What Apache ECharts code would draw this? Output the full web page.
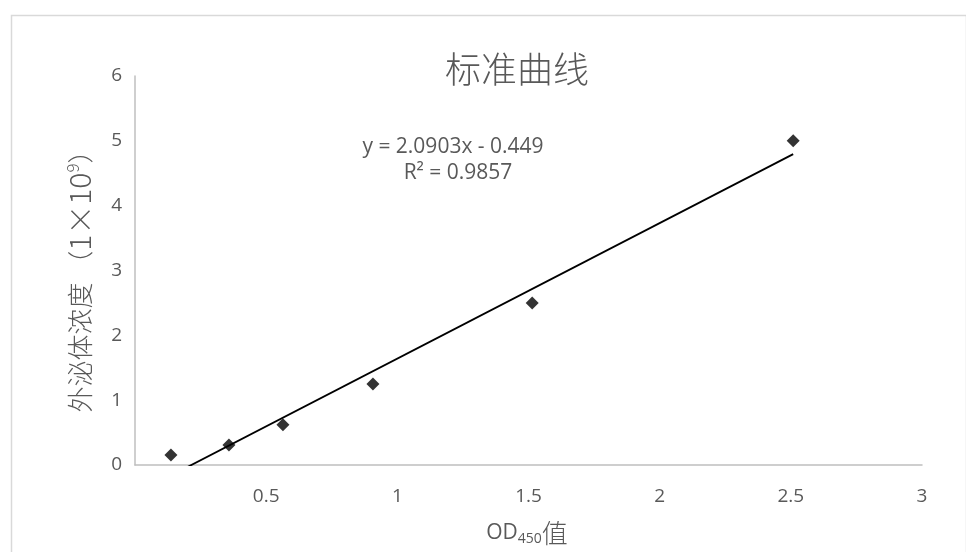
<!DOCTYPE html>
<html>
<head>
<meta charset="utf-8">
<script src="https://cdn.jsdelivr.net/npm/echarts@6/dist/echarts.min.js"></script>
<style>html,body{margin:0;padding:0;background:#fff}#c{width:966px;height:552px}</style>
</head>
<body>
<div id="c"></div>
<script>
const odValues = [0.137, 0.358, 0.564, 0.907, 1.514, 2.509];
const concValues = [0.154, 0.31, 0.62, 1.25, 2.5, 5.0];
const slope = 2.0903;
const intercept = -0.449;
const r2 = 0.9857;
const xTicks = [0, 0.5, 1, 1.5, 2, 2.5, 3];
const yTicks = [0, 1, 2, 3, 4, 5, 6];

const pts = odValues.map((x, i) => [x, concValues[i]]);
const xMin = Math.min(...odValues), xMax = Math.max(...odValues);
const trend = [[xMin, slope * xMin + intercept], [xMax, slope * xMax + intercept]];

const gray = '#595959';
const latin = '"Open Sans", "Noto Sans CJK SC", sans-serif';
const cjk = '"Noto Sans CJK SC", sans-serif';

const chart = echarts.init(document.getElementById('c'));
chart.setOption({
  backgroundColor: '#fff',
  animation: false,
  title: {
    text: '标准曲线', left: 512, top: 46, textAlign: 'center',
    textStyle: { fontFamily: cjk, fontSize: 36, fontWeight: 300, color: gray }
  },
  grid: { left: 135, right: 44, top: 76, bottom: 87 },
  xAxis: {
    type: 'value', min: xTicks[0], max: xTicks[xTicks.length - 1], interval: 0.5,
    axisLine: { show: true, lineStyle: { color: '#bfbfbf', width: 1.5 } },
    axisTick: { show: false },
    splitLine: { show: false },
    axisLabel: { showMinLabel: false, color: gray, fontSize: 19, fontFamily: latin, margin: 22 }
  },
  yAxis: {
    type: 'value', min: yTicks[0], max: yTicks[yTicks.length - 1], interval: 1,
    axisLine: { show: true, lineStyle: { color: '#bfbfbf', width: 1.5 } },
    axisTick: { show: false },
    splitLine: { show: false },
    axisLabel: { color: gray, fontSize: 19, fontFamily: latin, margin: 13 }
  },
  graphic: [
    { type: 'rect', left: 9, top: 13, shape: { width: 955, height: 545 }, style: { fill: 'none', stroke: '#d9d9d9', lineWidth: 1.5 }, z: -1 },
    { type: 'text', x: 453, y: 147, style: { text: 'y = 2.0903x - 0.449', align: 'center', verticalAlign: 'middle', font: '21px ' + latin, fill: gray } },
    { type: 'text', x: 458, y: 173, style: { text: 'R² = ' + r2, align: 'center', verticalAlign: 'middle', font: '21px ' + latin, fill: gray } },
    { type: 'text', x: 80, y: 275, rotation: Math.PI / 2,
      style: {
        text: '{a|外泌体浓度 （}{b|1×10}{s|9}{a|）}', align: 'center', verticalAlign: 'middle',
        rich: {
          a: { fontFamily: cjk, fontSize: 26, fontWeight: 300, fill: gray, color: gray },
          b: { fontFamily: cjk, fontSize: 30, fontWeight: 300, fill: gray, color: gray },
          s: { fontFamily: cjk, fontSize: 17, fontWeight: 300, fill: gray, color: gray, padding: [0, 0, 14, 0] }
        }
      } },
    { type: 'text', x: 527, y: 533,
      style: {
        text: '{a|OD}{s|450}{c|值}', align: 'center', verticalAlign: 'middle',
        rich: {
          a: { fontFamily: latin, fontSize: 21, fill: gray, color: gray },
          s: { fontFamily: latin, fontSize: 14, fill: gray, color: gray, padding: [12, 0, 0, 0] },
          c: { fontFamily: cjk, fontSize: 26, fontWeight: 300, fill: gray, color: gray }
        }
      } }
  ],
  series: [
    {
      type: 'line', data: trend, showSymbol: false, symbol: 'none', clip: true,
      lineStyle: { color: '#000', width: 1.8 }, z: 2
    },
    {
      type: 'scatter', data: pts, symbol: 'diamond', symbolSize: 13,
      itemStyle: { color: '#000' }, z: 3
    }
  ]
});
</script>
</body>
</html>
